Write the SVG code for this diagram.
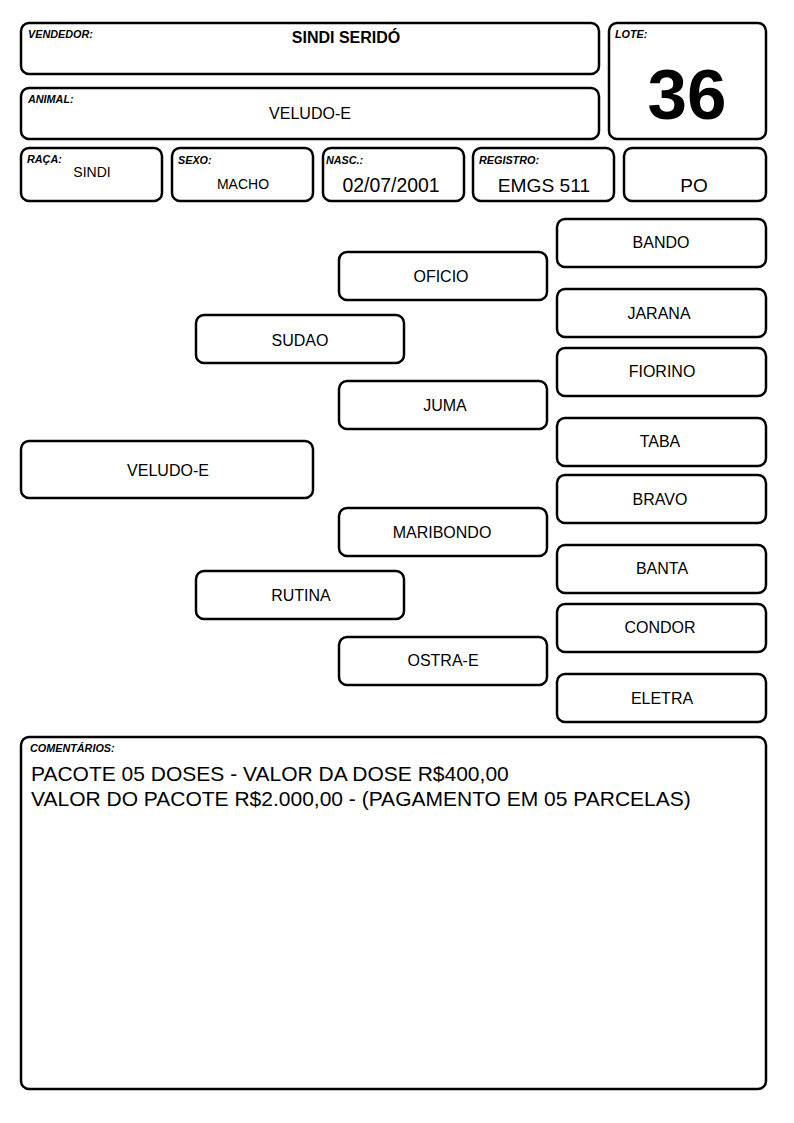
<svg xmlns="http://www.w3.org/2000/svg" width="794" height="1123" viewBox="0 0 794 1123">
<style>
.b{fill:#fff;stroke:#000;stroke-width:2.5}
text{font-family:"Liberation Sans",Arial,sans-serif;fill:#000}
.l{font-size:10.8px;font-weight:bold;font-style:italic}
.p{font-size:16px;text-anchor:middle}
.m{text-anchor:middle}
</style>
<rect width="794" height="1123" fill="#fff"/>
<g id="vendedor"><rect class="b" x="21" y="23" width="578" height="51" rx="8"/><text class="l" x="28" y="38">VENDEDOR:</text><text class="m" x="346" y="43" font-size="16" font-weight="bold">SINDI SERIDÓ</text></g>
<g id="animal"><rect class="b" x="21" y="88" width="578" height="51" rx="8"/><text class="l" x="28" y="103">ANIMAL:</text><text class="p" x="310" y="119">VELUDO-E</text></g>
<g id="lote"><rect class="b" x="609" y="23" width="157" height="116" rx="8"/><text class="l" x="615" y="38">LOTE:</text><text class="m" x="687" y="119" font-size="71" font-weight="bold">36</text></g>
<g id="raca"><rect class="b" x="21" y="148" width="141" height="53" rx="8"/><text class="l" x="27" y="163">RAÇA:</text><text class="m" x="92" y="177" font-size="14">SINDI</text></g>
<g id="sexo"><rect class="b" x="172" y="148" width="141" height="53" rx="8"/><text class="l" x="178" y="164">SEXO:</text><text class="m" x="243" y="189" font-size="14">MACHO</text></g>
<g id="nasc"><rect class="b" x="323" y="148" width="141" height="53" rx="8"/><text class="l" x="326" y="164">NASC.:</text><text class="m" x="391" y="192" font-size="19.4">02/07/2001</text></g>
<g id="registro"><rect class="b" x="473" y="148" width="141" height="53" rx="8"/><text class="l" x="479" y="164">REGISTRO:</text><text class="m" x="544" y="192" font-size="19.2">EMGS 511</text></g>
<g id="po"><rect class="b" x="624" y="148" width="142" height="53" rx="8"/><text class="m" x="694" y="192" font-size="19">PO</text></g>

<g id="n-veludo"><rect class="b" x="21" y="441" width="292" height="57" rx="8"/><text class="p" x="168" y="476">VELUDO-E</text></g>
<g id="n-sudao"><rect class="b" x="196" y="315" width="208" height="48" rx="8"/><text class="p" x="300" y="346">SUDAO</text></g>
<g id="n-rutina"><rect class="b" x="196" y="571" width="208" height="48" rx="8"/><text class="p" x="301" y="601">RUTINA</text></g>
<g id="n-oficio"><rect class="b" x="339" y="252" width="208" height="48" rx="8"/><text class="p" x="441" y="282">OFICIO</text></g>
<g id="n-juma"><rect class="b" x="339" y="381" width="208" height="48" rx="8"/><text class="p" x="445" y="411">JUMA</text></g>
<g id="n-maribondo"><rect class="b" x="339" y="508" width="208" height="48" rx="8"/><text class="p" x="442" y="538">MARIBONDO</text></g>
<g id="n-ostra"><rect class="b" x="339" y="637" width="208" height="48" rx="8"/><text class="p" x="443" y="666">OSTRA-E</text></g>
<g id="n-bando"><rect class="b" x="557" y="219" width="209" height="48" rx="8"/><text class="p" x="661" y="248">BANDO</text></g>
<g id="n-jarana"><rect class="b" x="557" y="289" width="209" height="48" rx="8"/><text class="p" x="659" y="319">JARANA</text></g>
<g id="n-fiorino"><rect class="b" x="557" y="348" width="209" height="48" rx="8"/><text class="p" x="662" y="377">FIORINO</text></g>
<g id="n-taba"><rect class="b" x="557" y="418" width="209" height="48" rx="8"/><text class="p" x="660" y="447">TABA</text></g>
<g id="n-bravo"><rect class="b" x="557" y="475" width="209" height="48" rx="8"/><text class="p" x="660" y="505">BRAVO</text></g>
<g id="n-banta"><rect class="b" x="557" y="545" width="209" height="48" rx="8"/><text class="p" x="662" y="574">BANTA</text></g>
<g id="n-condor"><rect class="b" x="557" y="604" width="209" height="48" rx="8"/><text class="p" x="660" y="633">CONDOR</text></g>
<g id="n-eletra"><rect class="b" x="557" y="674" width="209" height="48" rx="8"/><text class="p" x="662" y="704">ELETRA</text></g>
<g id="connectors"></g>

<g id="comentarios"><rect class="b" x="21" y="737" width="745" height="352" rx="8"/><text class="l" x="30" y="752">COMENTÁRIOS:</text>
<text x="31" y="781" font-size="21">PACOTE 05 DOSES - VALOR DA DOSE R$400,00</text>
<text x="31" y="806" font-size="21">VALOR DO PACOTE R$2.000,00 - (PAGAMENTO EM 05 PARCELAS)</text></g>
</svg>
